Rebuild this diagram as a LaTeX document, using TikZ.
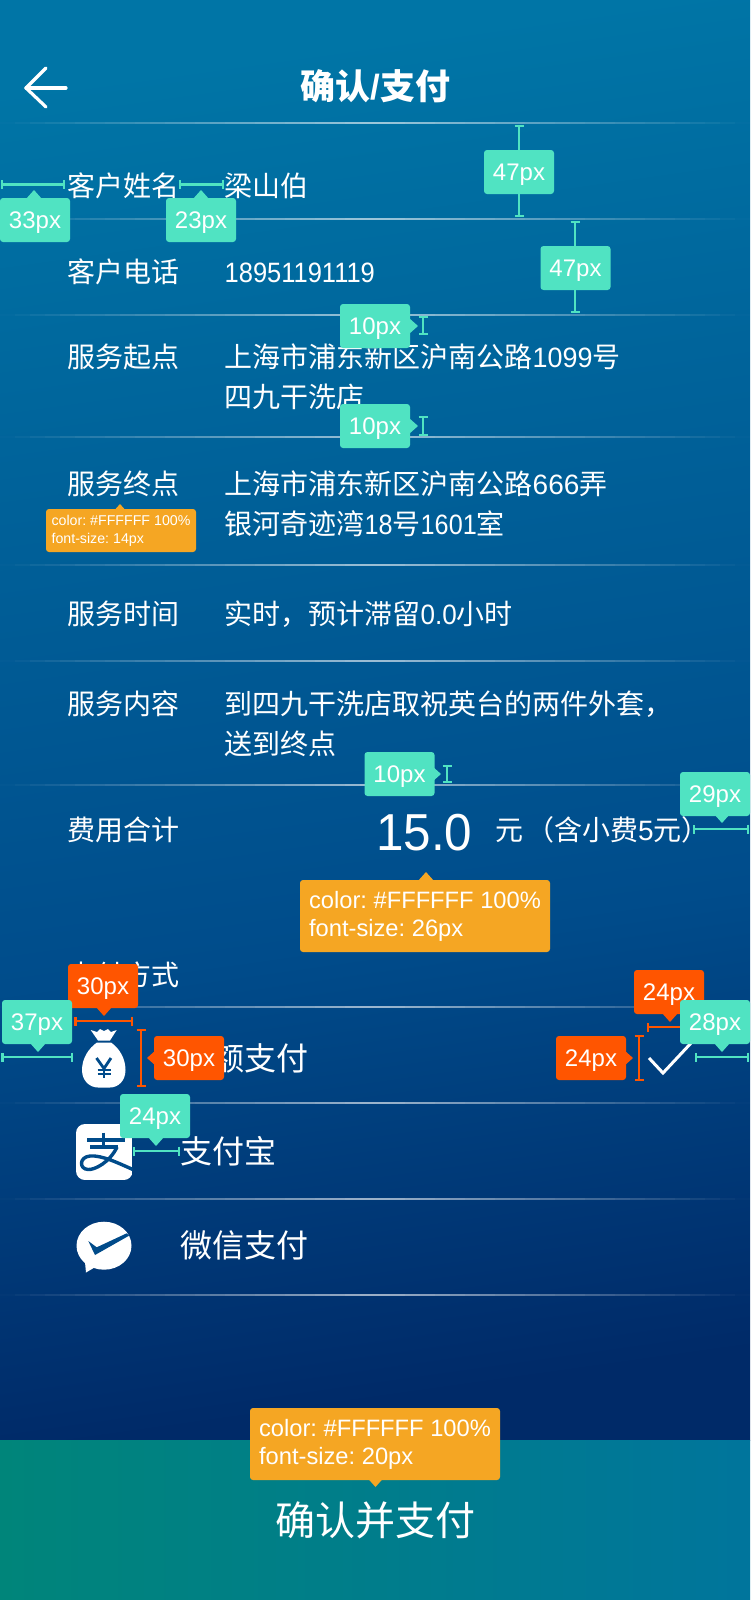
\documentclass[tikz,border=0pt]{standalone}
\usepackage{fontspec}
\usepackage{graphicx}
\usetikzlibrary{arrows.meta}
\setmainfont{Noto Sans CJK SC}
\newfontfamily\lat{Liberation Sans}
\newcommand\fs[1]{\fontsize{#1pt}{#1pt}\selectfont}
\definecolor{bgA}{HTML}{0075A6}
\definecolor{bgB}{HTML}{00649B}
\definecolor{bgC}{HTML}{004C8B}
\definecolor{bgD}{HTML}{002A68}
\definecolor{iconbg}{HTML}{004B8A}
\definecolor{teal}{HTML}{50E3C2}
\definecolor{amber}{HTML}{F5A623}
\definecolor{redor}{HTML}{FF5500}
\definecolor{btnL}{HTML}{00857A}
\definecolor{btnR}{HTML}{00759C}
\pgfdeclareverticalshading{bgs}{100bp}{color(0bp)=(bgD); color(25bp)=(bgD); color(42bp)=(bgC); color(62bp)=(bgB); color(75bp)=(bgA); color(100bp)=(bgA)}
\tikzset{
  body/.style={anchor=base west, text=white, inner sep=0pt, font=\fs{28}},
  pay/.style={anchor=base west, text=white, inner sep=0pt, font=\fs{32}},
  tipbox/.style={rounded corners=3pt, minimum width=70pt, minimum height=44pt, inner sep=0pt, text=white, font=\lat\fs{24}, text height=17pt, text depth=0pt},
  tealbox/.style={tipbox, fill=teal},
  redbox/.style={tipbox, fill=redor},
  amberbox/.style={rounded corners=3pt, fill=amber, inner sep=0pt, text=white, align=left},
  mteal/.style={teal, line width=2.4pt, {Bar[width=9pt,line width=2.4pt]}-{Bar[width=9pt,line width=2.4pt]}},
  mred/.style={redor, line width=2.4pt, {Bar[width=9pt,line width=2.4pt]}-{Bar[width=9pt,line width=2.4pt]}},
}
\newcommand\divider[1]{\foreach \i in {0,...,49}{\pgfmathsetmacro\op{0.62*(1-abs(\i-24.5)/25)}\fill[white, fill opacity=\op] (\i*15,#1-1) rectangle (\i*15+15,#1+1);}}
\newcommand\meas[4]{\coordinate (#1a) at (#2); \coordinate (#1b) at (#3); \draw[#4] (#1a) -- (#1b);}
\newcommand\ptrD[3]{\fill[#3] (#1-8,#2-9) -- (#1,#2) -- (#1+8,#2-9) -- cycle;}
\newcommand\ptrU[3]{\fill[#3] (#1-8,#2+9) -- (#1,#2) -- (#1+8,#2+9) -- cycle;}
\newcommand\ptrR[3]{\fill[#3] (#1-9,#2-8) -- (#1,#2) -- (#1-9,#2+8) -- cycle;}
\newcommand\ptrL[3]{\fill[#3] (#1+9,#2-8) -- (#1,#2) -- (#1+9,#2+8) -- cycle;}
\begin{document}
\begin{tikzpicture}[x=1pt,y=-1pt]
\useasboundingbox (0,0) rectangle (750,1600);
% background
\begin{scope}
\clip (0,0) rectangle (750,1440);
\shade[shading=bgs, shading angle=8] (0,0) rectangle (750,1440);
\end{scope}
\shade[left color=btnL, right color=btnR] (0,1440) rectangle (750,1600);
% dividers
\divider{123}\divider{219}\divider{315}\divider{437}\divider{565}\divider{661}\divider{785}\divider{1007}\divider{1103}\divider{1199}\divider{1295}
% back arrow
\coordinate (bk1) at (66,88); \coordinate (bk2) at (26,88); \coordinate (bk3) at (46,68); \coordinate (bk4) at (46,107);
\draw[white, line width=3.2pt, line cap=round, line join=round] (bk3) -- (bk2) -- (bk4);
\draw[white, line width=3.2pt, line cap=round] (bk2) -- (bk1);
% title
\node[anchor=base, text=white, inner sep=0pt, font=\fs{35}\bfseries] (title) at (375.5,100) {确认{\lat /}支付};
% rows
\node[body] (l1) at (67,196) {客户姓名};
\node[body] (v1) at (224.5,196) {梁山伯};
\node[body] (l2) at (67,282) {客户电话};
\node[body] (v2) at (224.5,282) {\lat\scalebox{0.91}[1]{18951191119}};
\node[body] (l3) at (67,367) {服务起点};
\node[body] (v3a) at (224.5,367) {上海市浦东新区沪南公路{\lat\scalebox{0.96}[1]{1099}}号};
\node[body] (v3b) at (224.5,407) {四九干洗店};
\node[body] (l4) at (67,494) {服务终点};
\node[body] (v4a) at (224.5,494) {上海市浦东新区沪南公路{\lat 666}弄};
\node[body] (v4b) at (224.5,534) {银河奇迹湾{\lat\scalebox{0.9}[1]{18}}号{\lat\scalebox{0.9}[1]{1601}}室};
\node[body] (l5) at (67,624) {服务时间};
\node[body] (v5) at (224.5,624) {实时，预计滞留{\lat\scalebox{0.93}[1]{0.0}}小时};
\node[body] (l6) at (67,714) {服务内容};
\node[body] (v6a) at (224.5,714) {到四九干洗店取祝英台的两件外套，};
\node[body] (v6b) at (224.5,754) {送到终点};
\node[body] (l7) at (67,840) {费用合计};
\node[anchor=base west, text=white, inner sep=0pt, font=\lat\fs{52}] (fee) at (376,850) {\scalebox{0.95}[1]{15.0}};
\node[body] (yuan) at (495,840) {元\hspace{3pt}（含小费{\lat 5}元）};
\node[body] (l8) at (67,985) {支付方式};
\node[pay] (p1) at (180,1070) {余额支付};
\node[pay] (p2) at (180,1163) {支付宝};
\node[pay] (p3) at (180,1257) {微信支付};
\node[anchor=base, text=white, inner sep=0pt, font=\fs{40}] (btn) at (375.5,1535) {确认并支付};
% money bag
\fill[white] (90.7,1030) -- (97,1032) -- (100,1029) -- (104,1031) -- (108,1029) -- (111,1032) -- (116.7,1030) -- (110,1040.5) -- (98,1040.5) -- cycle;
\fill[white] (97,1042.5) -- (111,1042.5) .. controls (119,1048) and (125.5,1058) .. (125.5,1070) .. controls (125.5,1081) and (118,1087.5) .. (110,1087.5) -- (98,1087.5) .. controls (90,1087.5) and (82,1081) .. (82,1070) .. controls (82,1058) and (89,1048) .. (97,1042.5) -- cycle;
\draw[iconbg, line width=2.8pt] (96.5,1058) -- (104,1068.5) -- (111,1058);
\draw[iconbg, line width=2.8pt] (104,1068) -- (104,1077.5);
\draw[iconbg, line width=2pt] (97.5,1069.5) -- (110.5,1069.5) (97.5,1073.5) -- (110.5,1073.5);
% alipay
\begin{scope}
\clip[rounded corners=9pt] (76,1124) rectangle (132.7,1180);
\fill[white] (76,1124) rectangle (132.7,1180);
\draw[iconbg, line width=3.4pt] (87.3,1140) -- (125,1140) (103.3,1132.7) -- (103.3,1147) (90,1147) -- (118.3,1147);
\draw[iconbg, line width=3.4pt] (117,1147) .. controls (110,1162) and (95,1170) .. (88,1169.5) .. controls (79,1169) and (79,1157) .. (90,1156) .. controls (102,1155) and (118,1163) .. (134,1170);
\end{scope}
% wechat
\fill[white] (104,1245.7) ellipse [x radius=27.5, y radius=24];
\fill[white] (85,1262) -- (86,1272.5) -- (97,1266) -- cycle;
\fill[iconbg] (88.3,1241) -- (95,1255) -- (129,1235.7) -- (126.7,1233.3) -- (96.7,1247.3) -- cycle;
% check mark
\coordinate (ck1) at (649,1058); \coordinate (ck2) at (663,1073); \coordinate (ck3) at (692,1042);
\draw[white, line width=3pt] (ck1) -- (ck2) -- (ck3);
% measures
\meas{ma}{519,125}{519,217}{mteal}
\meas{mb}{575,221}{575,313}{mteal}
\meas{mc}{1,184.5}{65,184.5}{mteal}
\meas{md}{179,184.5}{224,184.5}{mteal}
\meas{me}{423,316}{423,335}{mteal}
\meas{mf}{423,416}{423,436}{mteal}
\meas{mg}{447,765}{447,783}{mteal}
\meas{mh}{693,829}{749,829}{mteal}
\meas{mi}{74.3,1021}{133.3,1021}{mred}
\meas{mj}{1.3,1057}{73,1057}{mteal}
\meas{mk}{141,1029}{141,1087}{mred}
\meas{ml}{133,1151}{180,1151}{mteal}
\meas{mm}{647,1027}{692,1027}{mred}
\meas{mn}{695,1057}{749,1057}{mteal}
\meas{mo}{639,1035}{639,1081}{mred}
% tooltips
\node[tealbox] (t47a) at (519,172) {47px};
\node[tealbox] (t47b) at (575.5,268) {47px};
\ptrU{34}{190}{teal}\node[tealbox] (t33) at (35,220) {33px};
\ptrU{201}{190}{teal}\node[tealbox] (t23) at (201,220) {23px};
\ptrR{418}{326}{teal}\node[tealbox] (t10a) at (375,326) {10px};
\ptrR{418}{426}{teal}\node[tealbox] (t10b) at (375,426) {10px};
\ptrR{441}{774}{teal}\node[tealbox] (t10c) at (399.5,774) {10px};
\ptrD{722}{823}{teal}\node[tealbox] (t29) at (715,794) {29px};
\ptrD{104}{1016}{redor}\node[redbox] (t30a) at (103,986) {30px};
\ptrD{38}{1052}{teal}\node[tealbox] (t37) at (37,1022) {37px};
\ptrL{147}{1058}{redor}\node[redbox] (t30b) at (189,1058) {30px};
\ptrD{156}{1146}{teal}\node[tealbox] (t24) at (155,1116) {24px};
\ptrD{670}{1022}{redor}\node[redbox] (t24a) at (669,992) {24px};
\ptrD{722}{1052}{teal}\node[tealbox] (t28) at (715,1022) {28px};
\ptrR{633}{1058}{redor}\node[redbox] (t24b) at (591,1058) {24px};
\ptrU{120}{504}{amber}
\node[amberbox, minimum width=150pt, minimum height=43pt, font=\lat\frenchspacing\fontsize{14.2pt}{18pt}\selectfont] (a14) at (121,530.5) {color: \#FFFFFF 100\%\\font-size: 14px};
\ptrU{426}{872}{amber}
\node[amberbox, minimum width=250pt, minimum height=72pt, font=\lat\frenchspacing\fontsize{23.7pt}{28pt}\selectfont] (a26) at (425,916) {color: \#FFFFFF 100\%\\font-size: 26px};
\ptrD{375.5}{1487}{amber}
\node[amberbox, minimum width=250pt, minimum height=72pt, font=\lat\frenchspacing\fontsize{23.7pt}{28pt}\selectfont] (a20) at (375,1444) {color: \#FFFFFF 100\%\\font-size: 20px};
\end{tikzpicture}
\end{document}
